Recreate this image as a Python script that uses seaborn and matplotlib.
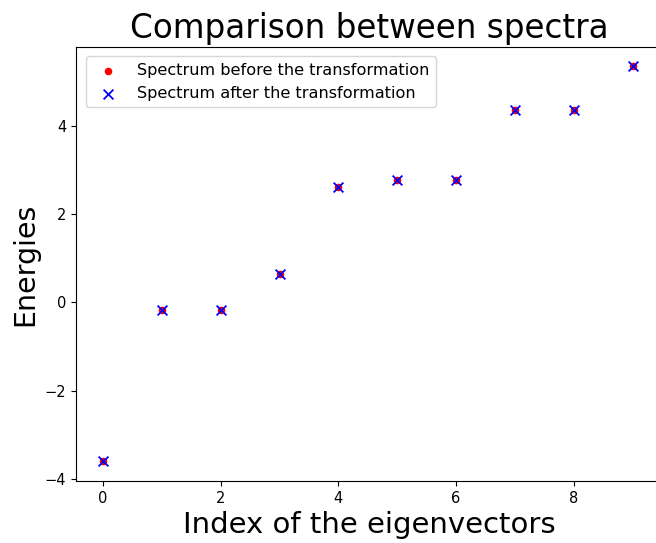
import matplotlib
matplotlib.use("Agg")
import matplotlib.pyplot as plt
import seaborn as sns
import pandas as pd

indices = [0, 1, 2, 3, 4, 5, 6, 7, 8, 9]
energies_before = [-3.60, -0.17, -0.17, 0.65, 2.60, 2.76, 2.76, 4.36, 4.36, 5.34]
energies_after = [-3.60, -0.17, -0.17, 0.65, 2.60, 2.76, 2.76, 4.36, 4.36, 5.34]

df_before = pd.DataFrame({"idx": indices, "E": energies_before})
df_after = pd.DataFrame({"idx": indices, "E": energies_after})

fig = plt.figure(figsize=(6.56, 5.43), dpi=100)
ax = fig.add_axes([76 / 656, 1 - 481 / 543, (662 - 76) / 656, (481 - 46.7) / 543])

sns.scatterplot(data=df_before, x="idx", y="E", ax=ax, marker="o", color="red",
                s=30, linewidth=0, label="Spectrum before the transformation")
sns.scatterplot(data=df_after, x="idx", y="E", ax=ax, marker="x", color="blue",
                s=50, linewidth=1.3, label="Spectrum after the transformation")

ax.set_title("Comparison between spectra", fontsize=23.5)
ax.set_xlabel("Index of the eigenvectors", fontsize=21)
ax.set_ylabel("Energies", fontsize=20.5)
ax.tick_params(labelsize=10.5)
ax.set_xticks([0, 2, 4, 6, 8])
ax.set_yticks([-4, -2, 0, 2, 4])
ax.set_xlim(-0.46, 9.5)
ax.legend(loc="upper left", fontsize=11.6, borderaxespad=0.6)

fig.savefig("out.png", dpi=100)
